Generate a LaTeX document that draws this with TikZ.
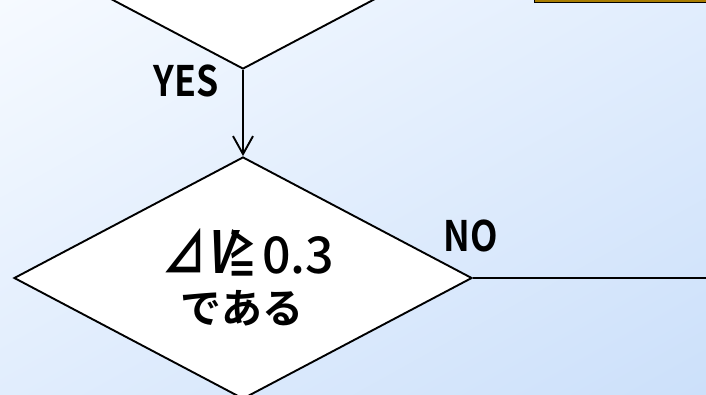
\documentclass[tikz,border=0pt]{standalone}
\usepackage{fontspec}
\usetikzlibrary{shapes.geometric,arrows.meta,shadings}
\newfontfamily\jpb{Noto Sans CJK JP Bold}
\newfontfamily\jpbi{Noto Sans CJK JP Bold}[FakeSlant=0.25]
\newfontfamily\jpr{Noto Sans CJK JP Medium}
\definecolor{bgA}{RGB}{246,250,255}
\definecolor{bgB}{RGB}{225,237,253}
\definecolor{bgC}{RGB}{204,224,250}
\definecolor{gold}{RGB}{168,124,0}
\tikzset{
  dia/.style={diamond, draw=black, fill=white, line width=1.9pt, inner sep=0pt,
    minimum width=458pt, minimum height=242pt},
  conn/.style={draw=black, line width=1.9pt},
  arr/.style={conn, -{Straight Barb[length=18pt,width=20pt]}},
  lbl/.style={font=\jpb\fontsize{42}{42}\selectfont, inner sep=0pt, xscale=0.85},
  cond/.style={inner sep=0pt, font=\jpb\fontsize{41}{41}\selectfont},
  resbox/.style={draw=black, fill=gold, line width=1.2pt, minimum width=172pt, minimum height=30pt, inner sep=0pt}
}
\begin{document}
\begin{tikzpicture}[x=1pt,y=-1pt]
\useasboundingbox (0,0) rectangle (706,394);
\clip (0,0) rectangle (706,394);
\shade[upper left=bgA, upper right=bgB, lower left=bgB, lower right=bgC] (0,0) rectangle (706,394);
\node[dia] (d1) at (243,-52) {};
\node[dia] (d2) at (243,278) {};
\node[resbox, anchor=south west] (res) at (534,3) {};
\draw[arr] (d1.south) -- (d2.north);
\coordinate (noend) at (707,278);
\draw[conn] (d2.east) -- (noend);
\node[lbl] (yes) at (186,81) {YES};
\node[lbl] (no) at (471,236) {NO};
\node[cond, anchor=base west] (ctext1) at (162,273) {\raisebox{0pt}[32pt][0pt]{\resizebox{44pt}{45pt}{\jpb ⊿}\kern0pt\resizebox{26pt}{43pt}{\jpbi V}\kern-4pt\resizebox{28pt}{44pt}{\jpb ≧}\kern6pt\resizebox{72pt}{37pt}{\jpr 0.3}}};
\node[cond, font=\jpb\fontsize{41}{41}\selectfont, anchor=base] (ctext2) at (242,323) {である};
\end{tikzpicture}
\end{document}
